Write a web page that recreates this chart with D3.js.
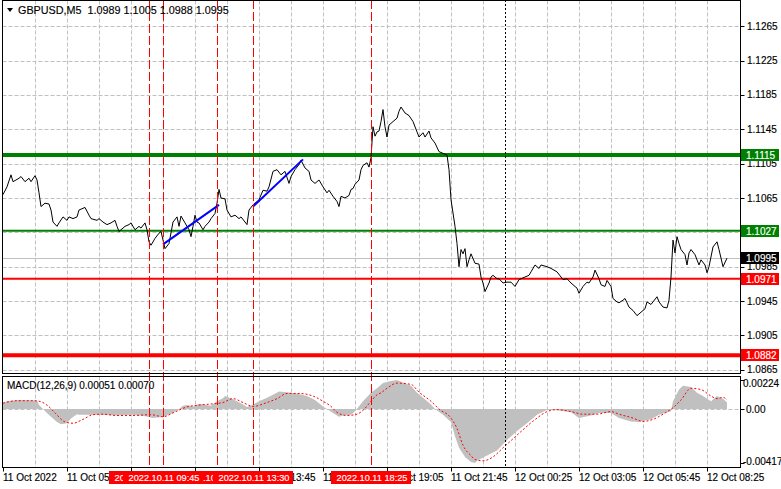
<!DOCTYPE html>
<html><head><meta charset="utf-8">
<script src="https://cdn.jsdelivr.net/npm/d3@7"></script>
<style>
body{margin:0;background:#fff}
svg{display:block}
text{font-family:'Liberation Sans',Arial,sans-serif;font-size:10px;fill:#000;stroke:#000;stroke-width:0.15px;white-space:pre}
text.w{fill:#fff;stroke:#fff}
</style></head><body>
<svg id="c" width="781" height="489"></svg>
<script>
// ---------- DATA ----------
const symbolTitle = "GBPUSD,M5  1.0989 1.1005 1.0988 1.0995";
const macdTitle = "MACD(12,26,9) 0.00051 0.00070";

// close prices (bar index, 5-minute bars from 11 Oct 03:05)
const priceBars = [0,2,4,5,8,9,11,13,14,16,17,18,19,21,23,24,25,27,28,30,32,33,35,37,38,41,43,44,47,48,50,52,54,56,57,58,61,63,64,66,68,69,71,72,73,74,76,78,79,80,81,83,85,87,88,89,91,93,94,95,96,97,98,100,101,103,104,106,107,108,109,111,112,114,116,118,119,122,123,125,128,130,132,133,135,137,139,141,143,144,146,148,149,151,153,154,156,158,160,162,163,165,167,168,169,171,173,174,175,176,178,179,180,182,183,184,185,186,187,188,189,190,191,192,193,195,197,198,199,201,203,205,207,208,210,211,213,214,216,218,220,222,223,224,226,227,228,229,230,231,232,233,234,236,238,239,240,241,243,244,245,247,248,250,252,254,256,258,259,261,263,264,266,268,269,272,274,277,279,280,282,284,285,287,288,290,292,293,295,296,298,299,301,302,304,305,307,308,310,311,312,313,315,317,319,321,322,324,325,327,328,330,332,333,334,335,336,337,338,339,341,342,343,344,346,348,349,351,352,353,355,357,358,360,362];
const priceValues = [1.1069,1.1078,1.1092,1.1084,1.1088,1.1090,1.1084,1.1088,1.1084,1.1091,1.1086,1.1071,1.1055,1.1059,1.1058,1.1051,1.1037,1.1032,1.1036,1.1043,1.1039,1.1043,1.1041,1.1043,1.1051,1.1054,1.1045,1.1041,1.1039,1.1041,1.1037,1.1034,1.1036,1.1039,1.1032,1.1026,1.1032,1.1034,1.1036,1.1028,1.1032,1.1030,1.1036,1.1028,1.1014,1.1010,1.1018,1.1024,1.1026,1.1016,1.1006,1.1012,1.1037,1.1043,1.1032,1.1044,1.1036,1.1028,1.1020,1.1032,1.1045,1.1037,1.1036,1.1028,1.1032,1.1037,1.1041,1.1047,1.1059,1.1075,1.1065,1.1064,1.1051,1.1043,1.1045,1.1041,1.1043,1.1034,1.1051,1.1057,1.1063,1.1074,1.1073,1.1078,1.1096,1.1098,1.1092,1.1096,1.1082,1.1090,1.1098,1.1104,1.1109,1.1100,1.1096,1.1086,1.1082,1.1086,1.1078,1.1071,1.1074,1.1067,1.1061,1.1055,1.1067,1.1065,1.1068,1.1075,1.1076,1.1081,1.1086,1.1098,1.1103,1.1106,1.1101,1.1112,1.1148,1.1137,1.1142,1.1143,1.1154,1.1168,1.1148,1.1136,1.1150,1.1154,1.1158,1.1166,1.1171,1.1164,1.1161,1.1154,1.1142,1.1136,1.1141,1.1136,1.1143,1.1135,1.1129,1.1119,1.1117,1.1115,1.1098,1.1063,1.1032,1.1012,1.0985,1.1005,1.1000,1.1006,1.0985,1.0993,1.1000,1.0989,1.0988,1.0973,1.0966,1.0956,1.0966,1.0973,1.0975,1.0971,1.0971,1.0966,1.0967,1.0967,1.0962,1.0970,1.0971,1.0973,1.0975,1.0979,1.0987,1.0983,1.0987,1.0985,1.0983,1.0979,1.0973,1.0970,1.0971,1.0966,1.0964,1.0960,1.0954,1.0962,1.0967,1.0966,1.0973,1.0981,1.0971,1.0964,1.0962,1.0969,1.0962,1.0948,1.0944,1.0943,1.0946,1.0948,1.0943,1.0938,1.0934,1.0928,1.0932,1.0936,1.0944,1.0941,1.0944,1.0950,1.0944,1.0938,1.0937,1.0946,1.0973,1.1016,1.1001,1.1020,1.1012,1.1005,1.0999,1.0987,1.1001,1.1005,1.0999,1.0987,1.0993,1.0987,1.0978,1.0985,1.1008,1.1014,1.1005,1.0985,1.0995];

// MACD histogram (bar index, value)
const histBars = [0,2,8,13,17,18,20,23,27,29,32,34,37,38,48,57,65,72,75,80,85,88,90,92,95,98,104,107,110,111,114,117,120,122,125,128,132,135,138,142,147,152,156,160,162,165,168,170,174,176,180,184,187,190,194,197,199,204,207,210,214,216,220,224,226,228,231,234,236,237,242,247,252,257,262,267,272,277,284,288,294,298,304,308,314,318,324,328,334,335,338,340,344,347,350,354,357,360,362];
const histValues = [0.00045,0.0006,0.0007,0.00068,0.00065,0.0003,0.0,-0.00047,-0.001,-0.00117,-0.0011,-0.00073,-0.0004,-0.00044,-0.00045,-0.0005,-0.00045,-0.00057,-0.0007,-0.0006,-0.0003,0.0,0.00026,0.0003,0.0002,0.0004,0.00026,0.0006,0.00083,0.001,0.00083,0.0006,0.00034,0.00016,0.00034,0.0006,0.00086,0.0011,0.00135,0.0013,0.0012,0.001,0.0007,0.0002,0.0,-0.0003,-0.0006,-0.0005,-0.00044,-0.00018,0.0006,0.00125,0.0016,0.002,0.00217,0.00224,0.0021,0.0018,0.00125,0.00086,0.00034,0.0,-0.00044,-0.001,-0.0021,-0.003,-0.0037,-0.0041,-0.00417,-0.004,-0.0036,-0.0032,-0.0024,-0.0017,-0.0011,-0.00044,-0.00005,-0.0001,-0.00026,-0.0007,-0.0005,-0.0003,-0.0003,-0.0007,-0.00096,-0.001,-0.0008,-0.00044,-0.00018,0.0006,0.0015,0.0018,0.0017,0.00125,0.001,0.0006,0.001,0.0008,0.00051];

// MACD signal line (bar index, value)
const signalBars = [0,7,15,18,22,26,31,35,40,45,50,57,65,74,80,85,92,98,105,110,115,120,125,132,137,142,148,155,160,164,167,172,177,180,184,187,189,192,197,204,208,214,218,224,227,230,234,236,240,245,250,255,260,267,272,277,284,290,297,304,308,315,320,325,330,335,339,344,349,354,357,360,362];
const signalValues = [0.00045,0.00064,0.00064,0.0006,0.0003,-0.0003,-0.001,-0.0011,-0.0008,-0.00044,-0.0004,-0.0005,-0.0005,-0.00044,-0.0006,-0.0003,0.00016,0.0003,0.0004,0.0005,0.0008,0.0005,0.0002,0.0005,0.0008,0.0012,0.0012,0.001,0.0006,0.0002,-0.00026,-0.0005,-0.0004,-0.0001,0.0006,0.0011,0.00125,0.0016,0.002,0.0019,0.0013,0.0006,0.0,-0.0007,-0.0015,-0.0028,-0.0036,-0.0039,-0.004,-0.0037,-0.003,-0.0023,-0.0016,-0.0007,-0.0002,-0.00005,-0.0002,-0.0004,-0.0004,-0.0002,-0.0004,-0.0007,-0.00096,-0.0008,-0.0004,0.0001,0.0007,0.0016,0.0015,0.001,0.0008,0.0009,0.0007];

// trend lines
const trendStartBars = [80, 125];
const trendStartPrices = [1.1011, 1.1055];
const trendEndBars = [108, 150];
const trendEndPrices = [1.1057, 1.1110];

// horizontal levels
const levelPrices = [1.1115, 1.1027, 1.0971, 1.0882];
const levelColors = ["#008000", "#008000", "#ff0000", "#ff0000"];
const levelWidths = [4, 2, 2, 4];
const bidPrice = 1.0995;

// vertical event lines (drawn in this order)
const eventBars = [73, 107, 80, 125, 184];
const eventLabels = ["2022.10.11 09:10", "2022.10.11 12:00", "2022.10.11 09:45", "2022.10.11 13:30", "2022.10.11 18:25"];
const cursorBar = 251;

// axes
const priceTicks = [1.1265, 1.1225, 1.1185, 1.1145, 1.1105, 1.1065, 1.1025, 1.0985, 1.0945, 1.0905, 1.0865];
const timeTickBars = [0, 32, 64, 96, 128, 160, 192, 224, 256, 288, 320, 352];
const timeTickLabels = ["11 Oct 2022", "11 Oct 05:45", "11 Oct 08:25", "11 Oct 11:05", "11 Oct 13:45", "11 Oct 16:25", "11 Oct 19:05", "11 Oct 21:45", "12 Oct 00:25", "12 Oct 03:05", "12 Oct 05:45", "12 Oct 08:25"];
const macdTicks = [0.00224, 0.0, -0.00417];
const macdTickLabels = ["0.00224", "0.00", "-0.00417"];

// ---------- CHART ----------
const svg = d3.select("#c");
const L = 2.5, R = 740.5, mainTop = 0.5, mainBot = 373.5, macdTop = 376.5, macdBot = 467.5;

const x = d3.scaleLinear().domain([0, 368.75]).range([3, 740.5]);
const y = d3.scaleLinear().domain([1.08612, 1.12956]).range([373, 0]);
const ym = d3.scaleLinear().domain([-0.00417, 0.00224]).range([463, 380]);

const gridColor = "#c0c0c0";
const vgrid = d3.range(16, 368, 16);
[[mainTop, mainBot], [macdTop, macdBot]].forEach(([t, b]) => {
  svg.append("g").selectAll("line").data(vgrid).join("line")
    .attr("x1", d => Math.round(x(d)) + 0.5).attr("x2", d => Math.round(x(d)) + 0.5)
    .attr("y1", t).attr("y2", b)
    .attr("stroke", gridColor).attr("stroke-dasharray", "4,2");
});
svg.append("g").selectAll("line").data(priceTicks).join("line")
  .attr("x1", L).attr("x2", R)
  .attr("y1", d => Math.round(y(d)) + 0.5).attr("y2", d => Math.round(y(d)) + 0.5)
  .attr("stroke", gridColor).attr("stroke-dasharray", "4,2");
svg.append("line").attr("x1", L).attr("x2", R)
  .attr("y1", Math.round(ym(0)) + 0.5).attr("y2", Math.round(ym(0)) + 0.5)
  .attr("stroke", gridColor).attr("stroke-dasharray", "4,2");

// bid line
svg.append("line").attr("x1", L).attr("x2", R)
  .attr("y1", Math.round(y(bidPrice)) + 0.5).attr("y2", Math.round(y(bidPrice)) + 0.5)
  .attr("stroke", "#c0c0c0");

// level lines
svg.append("g").selectAll("line").data(levelPrices).join("line")
  .attr("x1", L).attr("x2", R)
  .attr("y1", d => y(d)).attr("y2", d => y(d))
  .attr("stroke", (d, i) => levelColors[i]).attr("stroke-width", (d, i) => levelWidths[i]);

// MACD histogram
const histData = histBars.map((b, i) => [b, histValues[i]]);
svg.append("path").datum(histData)
  .attr("d", d3.area().x(d => x(d[0])).y0(ym(0)).y1(d => ym(d[1])))
  .attr("fill", "#c0c0c0");
const sigData = signalBars.map((b, i) => [b, signalValues[i]]);
svg.append("path").datum(sigData)
  .attr("d", d3.line().x(d => x(d[0])).y(d => ym(d[1])).curve(d3.curveMonotoneX))
  .attr("fill", "none").attr("stroke", "#ff0000").attr("stroke-dasharray", "2,2");

// price line
const priceData = priceBars.map((b, i) => [b, priceValues[i]]);
svg.append("path").datum(priceData)
  .attr("d", d3.line().x(d => x(d[0])).y(d => y(d[1])))
  .attr("fill", "none").attr("stroke", "#000").attr("stroke-width", 1);

// trend lines
svg.append("g").selectAll("line").data(trendStartBars).join("line")
  .attr("x1", d => x(d)).attr("y1", (d, i) => y(trendStartPrices[i]))
  .attr("x2", (d, i) => x(trendEndBars[i])).attr("y2", (d, i) => y(trendEndPrices[i]))
  .attr("stroke", "#0000ff").attr("stroke-width", 2);

// event vertical lines
svg.append("g").selectAll("line").data(eventBars).join("line")
  .attr("x1", d => Math.round(x(d)) + 0.5).attr("x2", d => Math.round(x(d)) + 0.5)
  .attr("y1", 0).attr("y2", macdBot)
  .attr("stroke", "#ff0000").attr("stroke-dasharray", "9,3");
svg.append("line")
  .attr("x1", Math.round(x(cursorBar)) + 0.5).attr("x2", Math.round(x(cursorBar)) + 0.5)
  .attr("y1", 0).attr("y2", macdBot)
  .attr("stroke", "#000").attr("stroke-dasharray", "2,2");

// frames
svg.append("rect").attr("x", L).attr("y", mainTop).attr("width", R - L).attr("height", mainBot - mainTop)
  .attr("fill", "none").attr("stroke", "#000");
svg.append("rect").attr("x", L).attr("y", macdTop).attr("width", R - L).attr("height", macdBot - macdTop)
  .attr("fill", "none").attr("stroke", "#000");

// right price axis
const pax = svg.append("g");
pax.selectAll("line").data(priceTicks).join("line")
  .attr("x1", R).attr("x2", R + 4)
  .attr("y1", d => Math.round(y(d)) + 0.5).attr("y2", d => Math.round(y(d)) + 0.5)
  .attr("stroke", "#000");
pax.selectAll("text").data(priceTicks).join("text")
  .attr("x", 747).attr("y", d => y(d)).attr("dy", "0.35em")
  .text(d => d.toFixed(4));

// MACD axis
const mAx = svg.append("g");
mAx.selectAll("line").data(macdTicks).join("line")
  .attr("x1", R).attr("x2", R + 4)
  .attr("y1", d => Math.round(ym(d)) + 0.5).attr("y2", d => Math.round(ym(d)) + 0.5)
  .attr("stroke", "#000");
mAx.selectAll("text").data(macdTicks).join("text")
  .attr("x", (d, i) => i === 1 ? 746 : 743)
  .attr("y", (d, i) => ym(d) + (i === 0 ? 3 : i === 2 ? -2 : 0)).attr("dy", "0.35em")
  .text((d, i) => macdTickLabels[i]);

// level boxes on axis
const boxPrices = [levelPrices[0], levelPrices[1], bidPrice, levelPrices[2], levelPrices[3]];
const boxColors = [levelColors[0], levelColors[1], "#000", levelColors[2], levelColors[3]];
const bx = svg.append("g");
bx.selectAll("rect").data(boxPrices).join("rect")
  .attr("x", 741).attr("y", d => Math.round(y(d)) - 6).attr("width", 38).attr("height", 12)
  .attr("fill", (d, i) => boxColors[i]);
bx.selectAll("text").data(boxPrices).join("text")
  .attr("class", "w")
  .attr("x", 746).attr("y", d => Math.round(y(d))).attr("dy", "0.35em")
  .text(d => d.toFixed(4));

// time axis
const tax = svg.append("g");
tax.selectAll("line").data(timeTickBars).join("line")
  .attr("x1", d => Math.round(x(d)) + 0.5).attr("x2", d => Math.round(x(d)) + 0.5)
  .attr("y1", macdBot).attr("y2", macdBot + 4).attr("stroke", "#000");
tax.selectAll("text").data(timeTickBars).join("text")
  .attr("x", d => x(d)).attr("y", 481)
  .text((d, i) => timeTickLabels[i]);

// event labels on time axis
const ev = svg.append("g");
eventBars.forEach((b, i) => {
  const cx = x(b);
  ev.append("rect").attr("x", cx - 40).attr("y", 471).attr("width", 80).attr("height", 13).attr("fill", "#ff0000");
  ev.append("text").attr("class", "w").attr("x", cx + 1).attr("y", 481)
    .attr("text-anchor", "middle").style("font-size", "9.2px").text(eventLabels[i]);
});

// titles
svg.append("path").attr("d", d3.line()([[7, 8], [13, 8], [10, 12]]) + "Z").attr("fill", "#000");
svg.append("text").attr("x", 18).attr("y", 14).style("font-size", "10.8px").text(symbolTitle);
svg.append("text").attr("x", 7).attr("y", 389).style("font-size", "10px").text(macdTitle);
</script></body></html>
